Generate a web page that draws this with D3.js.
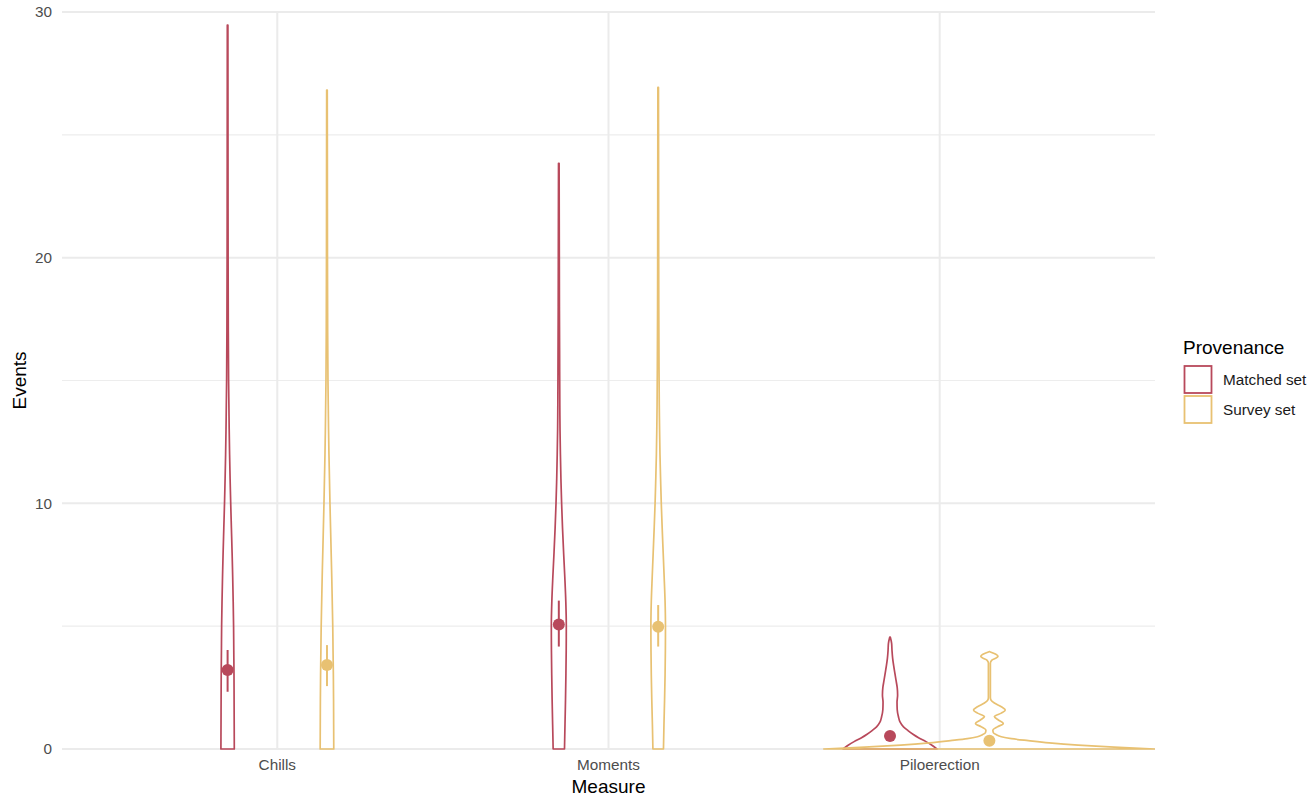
<!DOCTYPE html>
<html>
<head>
<meta charset="utf-8">
<script src="https://cdn.jsdelivr.net/npm/d3@7"></script>
<style>
  html, body { margin: 0; padding: 0; background: #ffffff; }
  svg { display: block; font-family: "Liberation Sans", Arial, Helvetica, sans-serif; }
</style>
</head>
<body>
<svg id="chart" width="1312" height="797"></svg>
<script>
// ---- data -------------------------------------------------------------
const measures = ["Chills", "Moments", "Piloerection"];
const provenances = ["Matched set", "Survey set"];
const yTicks = [0, 10, 20, 30];
const yMinorTicks = [5, 15, 25];

// mean events and 95% interval per measure
const meanMatched = [3.22, 5.07, 0.53];
const lowMatched  = [2.33, 4.17, 0.42];
const highMatched = [4.03, 6.04, 0.64];
const meanSurvey  = [3.42, 4.98, 0.34];
const lowSurvey   = [2.56, 4.17, 0.26];
const highSurvey  = [4.23, 5.86, 0.42];

// violin profiles: event level and relative density (1 = widest violin)
const chillsMatchedEvents  = [0, 1, 2, 3, 4, 5, 6, 7, 8, 9, 10, 11, 12, 13, 14, 15, 17, 20, 24, 29.47];
const chillsMatchedDensity = [.0404, .0398, .0392, .0386, .0373, .0361, .0337, .0307, .0271, .0229, .0187, .0151, .0120, .0096, .0078, .0060, .0042, .0030, .0024, .0018];
const chillsSurveyEvents   = [0, 1, 2, 3, 4, 5, 6, 7, 8, 9, 10, 11, 12, 13, 14, 15, 17, 20, 24, 26.82];
const chillsSurveyDensity  = [.0410, .0404, .0398, .0386, .0367, .0349, .0319, .0289, .0253, .0217, .0181, .0151, .0120, .0096, .0078, .0060, .0042, .0030, .0024, .0018];
const momentsMatchedEvents  = [0, 1, 2, 3, 4, 5, 6, 7, 8, 9, 10, 11, 12, 13, 14, 16, 18, 20, 23.84];
const momentsMatchedDensity = [.0343, .0373, .0404, .0428, .0446, .0452, .0422, .0361, .0289, .0223, .0169, .0127, .0096, .0072, .0060, .0048, .0036, .0030, .0018];
const momentsSurveyEvents   = [0, 1, 2, 3, 4, 5, 6, 7, 8, 9, 10, 11, 12, 13, 14, 16, 18, 20, 24, 26.93];
const momentsSurveyDensity  = [.0319, .0349, .0386, .0416, .0434, .0440, .0416, .0361, .0301, .0241, .0187, .0145, .0108, .0084, .0066, .0048, .0036, .0030, .0024, .0018];
const piloMatchedEvents  = [0, 0.15, 0.3, 0.45, 0.6, 0.75, 0.9, 1.1, 1.3, 1.6, 1.9, 2.2, 2.5, 2.8, 3.1, 3.4, 3.7, 4.0, 4.3, 4.55];
const piloMatchedDensity = [.2831, .2530, .2169, .1747, .1386, .1084, .0813, .0602, .0512, .0434, .0422, .0458, .0434, .0361, .0289, .0217, .0157, .0120, .0096, .0018];
const piloSurveyEvents   = [0, 0.08, 0.16, 0.25, 0.34, 0.42, 0.5, 0.58, 0.66, 0.77, 0.9, 1.04, 1.18, 1.32, 1.46, 1.59, 1.72, 1.87, 2.0, 2.1, 2.5, 3.0, 3.5, 3.62, 3.7, 3.78, 3.86, 3.96];
const piloSurveyDensity  = [1, .753, .536, .361, .235, .133, .072, .042, .024, .021, .048, .084, .054, .030, .072, .096, .072, .030, .009, .006, .006, .006, .006, .015, .039, .052, .039, .002];

// ---- styling ----------------------------------------------------------
const colorOf = { "Matched set": "#b8495b", "Survey set": "#e8c172" };
const panel = { left: 62, right: 1155, top: 12, bottom: 749 };
const dodge = 0.15;

// ---- assemble ---------------------------------------------------------
const zipProfile = (ev, de) => ev.map((v, i) => ({ v, d: de[i] }));
const violins = [
  { m: 0, p: "Matched set", prof: zipProfile(chillsMatchedEvents, chillsMatchedDensity) },
  { m: 0, p: "Survey set",  prof: zipProfile(chillsSurveyEvents, chillsSurveyDensity) },
  { m: 1, p: "Matched set", prof: zipProfile(momentsMatchedEvents, momentsMatchedDensity) },
  { m: 1, p: "Survey set",  prof: zipProfile(momentsSurveyEvents, momentsSurveyDensity) },
  { m: 2, p: "Matched set", prof: zipProfile(piloMatchedEvents, piloMatchedDensity) },
  { m: 2, p: "Survey set",  prof: zipProfile(piloSurveyEvents, piloSurveyDensity) }
];
const summaries = [];
measures.forEach((_, i) => {
  summaries.push({ m: i, p: "Matched set", mean: meanMatched[i], lo: lowMatched[i], hi: highMatched[i] });
  summaries.push({ m: i, p: "Survey set",  mean: meanSurvey[i],  lo: lowSurvey[i],  hi: highSurvey[i] });
});

const svg = d3.select("#chart");

// measure positions 1..n on a continuous axis so groups can be dodged
const x = d3.scaleLinear().domain([0.35, measures.length + 0.65]).range([panel.left, panel.right]);
const y = d3.scaleLinear().domain([0, 30]).range([panel.bottom, panel.top]);
const halfWidth = d3.scaleLinear().domain([0, 1]).range([0, x(1.5) - x(1)]);
const xOf = (m, p) => x(m + 1 + (p === "Matched set" ? -dodge : dodge));

// grid
const grid = svg.append("g");
grid.selectAll(".minor").data(yMinorTicks).join("line")
  .attr("x1", panel.left).attr("x2", panel.right)
  .attr("y1", d => y(d)).attr("y2", d => y(d))
  .attr("stroke", "#ededed").attr("stroke-width", 1.1);
grid.selectAll(".major").data(yTicks).join("line")
  .attr("x1", panel.left).attr("x2", panel.right)
  .attr("y1", d => y(d)).attr("y2", d => y(d))
  .attr("stroke", "#ebebeb").attr("stroke-width", 2);
grid.selectAll(".vmajor").data(measures).join("line")
  .attr("x1", (d, i) => x(i + 1)).attr("x2", (d, i) => x(i + 1))
  .attr("y1", panel.top).attr("y2", panel.bottom)
  .attr("stroke", "#ebebeb").attr("stroke-width", 2);

// violins
const clip = svg.append("clipPath").attr("id", "panelClip")
  .append("rect").attr("x", panel.left).attr("y", 0)
  .attr("width", panel.right - panel.left).attr("height", panel.bottom + 2);
const vg = svg.append("g").attr("clip-path", "url(#panelClip)");
violins.forEach(vi => {
  const cx = xOf(vi.m, vi.p);
  const area = d3.area()
    .y(d => y(d.v))
    .x0(d => cx - halfWidth(d.d))
    .x1(d => cx + halfWidth(d.d))
    .curve(d3.curveMonotoneY);
  vg.append("path")
    .attr("d", area(vi.prof))
    .attr("fill", "none")
    .attr("stroke", colorOf[vi.p])
    .attr("stroke-width", 1.7)
    .attr("stroke-linejoin", "round");
});

// means with intervals
const sg = svg.append("g");
sg.selectAll("line.ci").data(summaries).join("line")
  .attr("x1", d => xOf(d.m, d.p)).attr("x2", d => xOf(d.m, d.p))
  .attr("y1", d => y(d.lo)).attr("y2", d => y(d.hi))
  .attr("stroke", d => colorOf[d.p]).attr("stroke-width", 2);
sg.selectAll("circle").data(summaries).join("circle")
  .attr("cx", d => xOf(d.m, d.p)).attr("cy", d => y(d.mean))
  .attr("r", 6).attr("fill", d => colorOf[d.p]);

// y axis labels
svg.append("g").selectAll("text").data(yTicks).join("text")
  .attr("x", 52).attr("y", d => y(d)).attr("dy", "0.35em")
  .attr("text-anchor", "end").attr("font-size", 15.3).attr("fill", "#4d4d4d")
  .text(d => d);

// x axis labels
svg.append("g").selectAll("text").data(measures).join("text")
  .attr("x", (d, i) => x(i + 1)).attr("y", 770)
  .attr("text-anchor", "middle").attr("font-size", 15.3).attr("fill", "#4d4d4d")
  .text(d => d);

// axis titles
svg.append("text").attr("x", (panel.left + panel.right) / 2).attr("y", 793)
  .attr("text-anchor", "middle").attr("font-size", 19).attr("fill", "#000")
  .text("Measure");
svg.append("text")
  .attr("transform", `translate(26,${(panel.top + panel.bottom) / 2}) rotate(-90)`)
  .attr("text-anchor", "middle").attr("font-size", 19).attr("fill", "#000")
  .text("Events");

// legend
const lg = svg.append("g").attr("transform", "translate(1183,0)");
lg.append("text").attr("x", 0).attr("y", 354).attr("font-size", 19).attr("fill", "#000")
  .text("Provenance");
const keys = lg.selectAll("g.key").data(provenances).join("g")
  .attr("transform", (d, i) => `translate(0,${365 + i * 30})`);
keys.append("rect").attr("x", 1.5).attr("y", 1).attr("width", 27).attr("height", 27)
  .attr("fill", "#fff").attr("stroke", d => colorOf[d]).attr("stroke-width", 1.8);
keys.append("text").attr("x", 40).attr("y", 15).attr("dy", "0.35em")
  .attr("font-size", 15.3).attr("fill", "#1a1a1a").text(d => d);
</script>
</body>
</html>
